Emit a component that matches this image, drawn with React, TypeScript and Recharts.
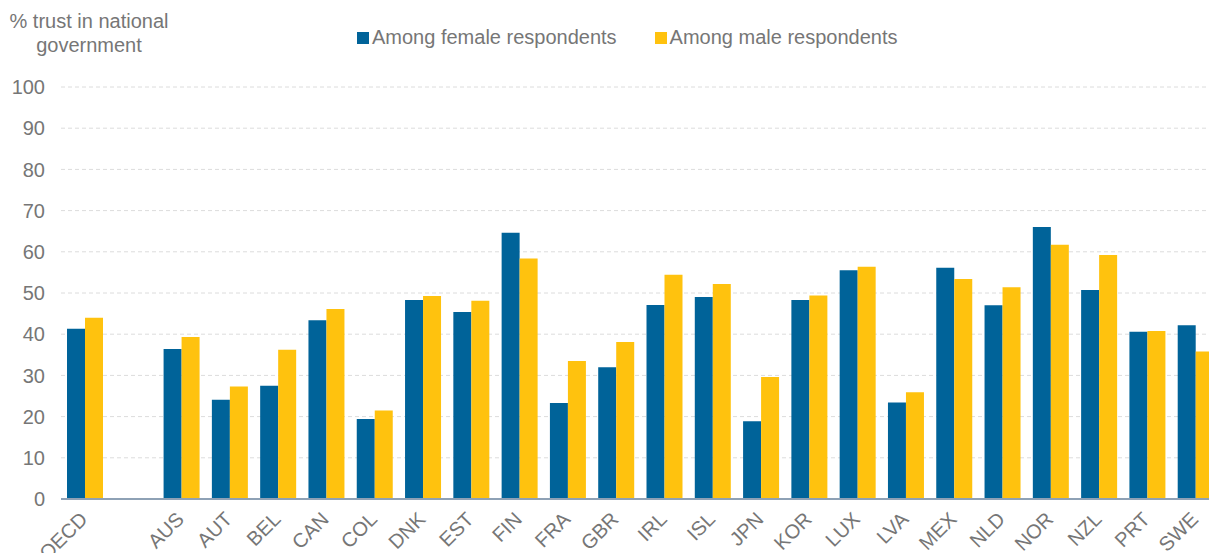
import { BarChart, Bar, XAxis, YAxis, CartesianGrid } from "recharts";

const countries = ["OECD", "", "AUS", "AUT", "BEL", "CAN", "COL", "DNK", "EST", "FIN", "FRA", "GBR", "IRL", "ISL", "JPN", "KOR", "LUX", "LVA", "MEX", "NLD", "NOR", "NZL", "PRT", "SWE"];
const female = [41.3, null, 36.4, 24.1, 27.5, 43.4, 19.4, 48.3, 45.4, 64.6, 23.3, 32.0, 47.1, 49.0, 18.9, 48.3, 55.5, 23.4, 56.1, 47.0, 66.0, 50.7, 40.6, 42.2];
const male = [44.0, null, 39.3, 27.3, 36.2, 46.1, 21.5, 49.3, 48.1, 58.4, 33.5, 38.1, 54.4, 52.2, 29.6, 49.4, 56.4, 25.9, 53.4, 51.4, 61.7, 59.2, 40.8, 35.8];
const yTicks = [0, 10, 20, 30, 40, 50, 60, 70, 80, 90, 100];

const BLUE = "#006399";
const YELLOW = "#FFC20E";
const GREY = "#767676";
const FONT = "'Liberation Sans', Arial, sans-serif";

const data = countries.map((c, i) => ({ country: c, female: female[i], male: male[i] }));

// x/y given to the tick already include tickSize + tickMargin (8px below the axis)
function CountryTick({ x, y, payload }: any) {
  return (
    <g transform={`translate(${x - 5},${y + 5})`}>
      <text x={0} y={0} dy={12} textAnchor="end" transform="rotate(-45)" fill={GREY} fontSize={20} fontFamily={FONT}>
        {payload.value}
      </text>
    </g>
  );
}

const legendItems = [
  { label: "Among female respondents", color: BLUE },
  { label: "Among male respondents", color: YELLOW },
];

export default function App() {
  return (
    <div style={{ position: "fixed", left: 0, top: 0, width: 1209, height: 553, overflow: "hidden", background: "#fff" }}>
      <div style={{ position: "absolute", left: 0, top: 9, width: 178, textAlign: "center", fontFamily: FONT, fontSize: 20, color: GREY, lineHeight: "24px" }}>
        % trust in national<br />government
      </div>
      <div style={{ position: "absolute", left: 357, top: 26, display: "flex", fontFamily: FONT, fontSize: 20, color: GREY }}>
        {legendItems.map((it) => (
          <div key={it.label} style={{ display: "flex", alignItems: "center", marginRight: 38 }}>
            <span style={{ width: 12, height: 12, background: it.color, display: "inline-block", marginRight: 3 }} />
            <span>{it.label}</span>
          </div>
        ))}
      </div>
      <div style={{ position: "absolute", left: 0, top: 0 }}>
        <BarChart
          width={1230}
          height={553}
          data={data}
          margin={{ top: 87, right: 10, bottom: 0, left: 0 }}
          barCategoryGap={6}
          barGap={0}
        >
          <CartesianGrid vertical={false} stroke="#dcdcdc" strokeDasharray="4 3" />
          <XAxis
            dataKey="country"
            interval={0}
            height={54}
            tickLine={false}
            axisLine={{ stroke: "#8ea1b5", strokeWidth: 2 }}
            tick={<CountryTick />}
          />
          <YAxis
            domain={[0, 100]}
            ticks={yTicks}
            width={61}
            axisLine={false}
            tickLine={false}
            tickMargin={10}
            tick={{ fill: GREY, fontSize: 20, fontFamily: FONT }}
          />
          <Bar dataKey="female" name="Among female respondents" fill={BLUE} isAnimationActive={false} />
          <Bar dataKey="male" name="Among male respondents" fill={YELLOW} isAnimationActive={false} />
        </BarChart>
      </div>
    </div>
  );
}
